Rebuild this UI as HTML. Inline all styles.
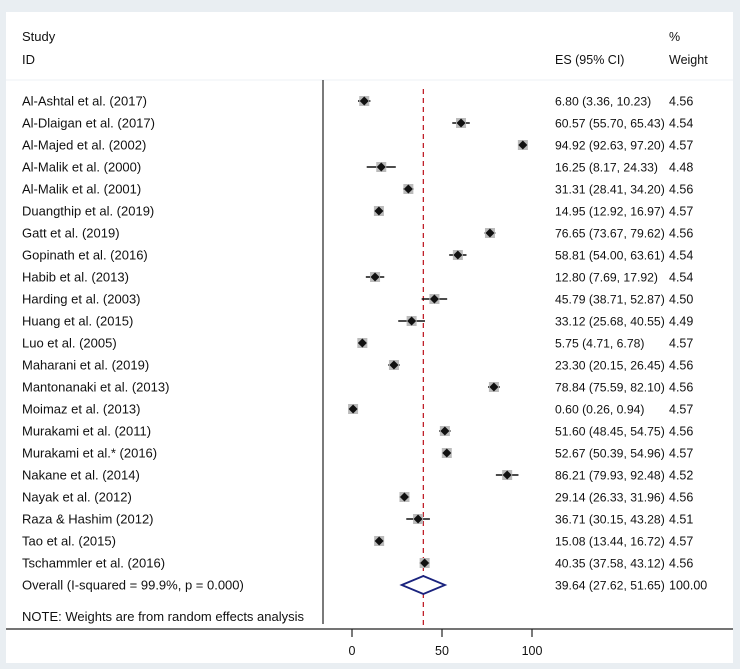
<!DOCTYPE html>
<html><head><meta charset="utf-8"><style>
body{margin:0;background:#e9eef2;}
svg{display:block;font-family:"Liberation Sans",sans-serif;}
</style></head><body>
<svg width="740" height="669" viewBox="0 0 740 669" id="chart">
<rect x="0" y="0" width="740" height="669" fill="#e9eef2"/>
<rect x="6" y="12" width="727" height="651" fill="#ffffff"/>
<line x1="6" y1="80" x2="733" y2="80" stroke="#eef2f5" stroke-width="1"/>
<g font-size="12.5" fill="#111">
<text x="22" y="41" font-size="13">Study</text>
<text x="22" y="64" font-size="13">ID</text>
<text x="555" y="64">ES (95% CI)</text>
<text x="669" y="41">%</text>
<text x="669" y="64">Weight</text>
</g>
<g id="rows"></g>
</svg>
<script>
const studies=["Al-Ashtal et al. (2017)","Al-Dlaigan et al. (2017)","Al-Majed et al. (2002)","Al-Malik et al. (2000)","Al-Malik et al. (2001)","Duangthip et al. (2019)","Gatt et al. (2019)","Gopinath et al. (2016)","Habib et al. (2013)","Harding et al. (2003)","Huang et al. (2015)","Luo et al. (2005)","Maharani et al. (2019)","Mantonanaki et al. (2013)","Moimaz et al. (2013)","Murakami et al. (2011)","Murakami et al.* (2016)","Nakane et al. (2014)","Nayak et al. (2012)","Raza & Hashim (2012)","Tao et al. (2015)","Tschammler et al.  (2016)"];
const es=[6.80,60.57,94.92,16.25,31.31,14.95,76.65,58.81,12.80,45.79,33.12,5.75,23.30,78.84,0.60,51.60,52.67,86.21,29.14,36.71,15.08,40.35];
const lo=[3.36,55.70,92.63,8.17,28.41,12.92,73.67,54.00,7.69,38.71,25.68,4.71,20.15,75.59,0.26,48.45,50.39,79.93,26.33,30.15,13.44,37.58];
const hi=[10.23,65.43,97.20,24.33,34.20,16.97,79.62,63.61,17.92,52.87,40.55,6.78,26.45,82.10,0.94,54.75,54.96,92.48,31.96,43.28,16.72,43.12];
const weights=[4.56,4.54,4.57,4.48,4.56,4.57,4.56,4.54,4.54,4.50,4.49,4.57,4.56,4.56,4.57,4.56,4.57,4.52,4.56,4.51,4.57,4.56];
const overall=[39.64,27.62,51.65];
const xTicks=[0,50,100];
const NS="http://www.w3.org/2000/svg";
const g=document.getElementById('rows');
const xs=v=>352+v*1.8;
const ys=i=>101+i*22;
function mk(tag,attrs,parent){const e=document.createElementNS(NS,tag);for(const k in attrs)e.setAttribute(k,attrs[k]);(parent||g).appendChild(e);return e;}
const f=v=>v.toFixed(2);
let e=mk('line',{x1:323,y1:80,x2:323,y2:624,stroke:'#222','stroke-width':1.2});


e=mk('line',{x1:xs(overall[0]),y1:89,x2:xs(overall[0]),y2:629,stroke:'#c0202a','stroke-width':1.3,'stroke-dasharray':'5,4'});


studies.forEach((s,i)=>{
  const y=ys(i);
  let t=mk('text',{x:22,y:y+4.5,'font-size':13,fill:'#111'});t.textContent=s;
  
  
  const ci=mk('line',{x1:xs(lo[i]),y1:y,x2:xs(hi[i]),y2:y,stroke:'#111','stroke-width':1.6});
  
  
  const sq=mk('rect',{x:xs(es[i])-5,y:y-5,width:10,height:10,fill:'#bbb'});
  
  
  const cx=xs(es[i]);
  const d=mk('polygon',{points:`${cx-4.5},${y} ${cx},${y-4.5} ${cx+4.5},${y} ${cx},${y+4.5}`,fill:'#111'});
  
  
  t=mk('text',{x:555,y:y+4.5,'font-size':12.2,fill:'#111'});t.textContent=`${f(es[i])} (${f(lo[i])}, ${f(hi[i])})`;
  
  
  t=mk('text',{x:669,y:y+4.5,'font-size':12.5,fill:'#111'});t.textContent=f(weights[i]);
  
  
});
const oy=ys(studies.length);
let t=mk('text',{x:22,y:oy+4.5,'font-size':13,fill:'#111'});t.textContent='Overall  (I-squared = 99.9%, p = 0.000)';


e=mk('polygon',{points:`${xs(overall[1])},${oy} ${xs(overall[0])},${oy-9} ${xs(overall[2])},${oy} ${xs(overall[0])},${oy+9}`,fill:'#fff',stroke:'#1a237e','stroke-width':1.8});


t=mk('text',{x:555,y:oy+4.5,'font-size':12.2,fill:'#111'});t.textContent=`${f(overall[0])} (${f(overall[1])}, ${f(overall[2])})`;


t=mk('text',{x:669,y:oy+4.5,'font-size':12.5,fill:'#111'});t.textContent='100.00';


t=mk('text',{x:22,y:621,'font-size':13,fill:'#111'});t.textContent='NOTE: Weights are from random effects analysis';


e=mk('line',{x1:6,y1:629,x2:733,y2:629,stroke:'#222','stroke-width':1.2});


xTicks.forEach(v=>{
  const tk=mk('line',{x1:xs(v),y1:629,x2:xs(v),y2:637,stroke:'#222','stroke-width':1.2});
  
  
  const tl=mk('text',{x:xs(v),y:655,'font-size':12.5,fill:'#111','text-anchor':'middle'});tl.textContent=v;
  
  
});
</script>
</body></html>
